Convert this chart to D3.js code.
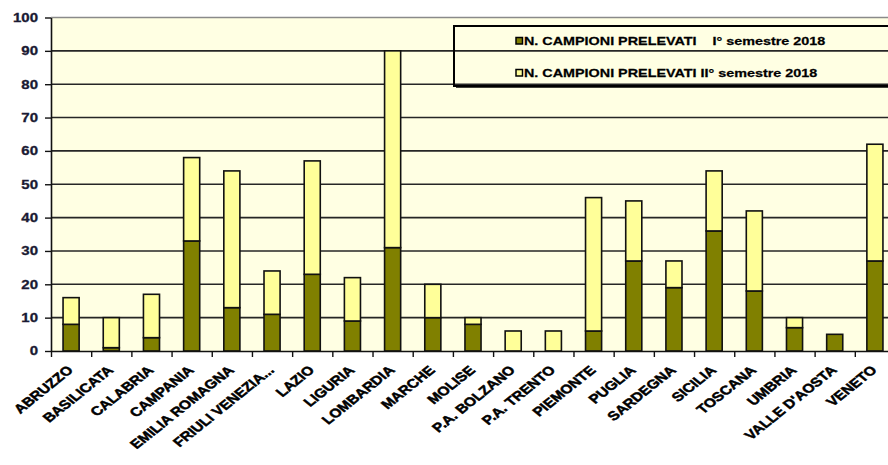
<!DOCTYPE html>
<html>
<head>
<meta charset="utf-8">
<script src="https://cdn.jsdelivr.net/npm/d3@7"></script>
<style>
  body { margin: 0; background: #fff; }
  text { font-family: "Liberation Sans", Arial, sans-serif; font-weight: bold; }
</style>
</head>
<body>
<div id="chart"></div>
<script>
// regions, first and second half of 2018
var regions = ["ABRUZZO", "BASILICATA", "CALABRIA", "CAMPANIA", "EMILIA ROMAGNA",
  "FRIULI VENEZIA...", "LAZIO", "LIGURIA", "LOMBARDIA", "MARCHE", "MOLISE",
  "P.A. BOLZANO", "P.A. TRENTO", "PIEMONTE", "PUGLIA", "SARDEGNA", "SICILIA",
  "TOSCANA", "UMBRIA", "VALLE D'AOSTA", "VENETO"];
var sem1 = [8, 1, 4, 33, 13, 11, 23, 9, 31, 10, 8, 0, 0, 6, 27, 19, 36, 18, 7, 5, 27];
var sem2 = [8, 9, 13, 25, 41, 13, 34, 13, 59, 10, 2, 6, 6, 40, 18, 8, 18, 24, 3, 0, 35];
var yTicks = [0, 10, 20, 30, 40, 50, 60, 70, 80, 90, 100];
var seriesNames = ["N. CAMPIONI PRELEVATI    I\u00b0 semestre 2018",
  "N. CAMPIONI PRELEVATI II\u00b0 semestre 2018"];

var W = 888, H = 465;
var plotLeft = 51, plotRight = 895, plotTop = 17.5, plotBottom = 351;
var sx = 1.25; // text is stretched horizontally in the original

var svg = d3.select("#chart").append("svg")
  .attr("width", W)
  .attr("height", H);

var data = regions.map(function (r, i) {
  return { region: r, a: sem1[i], b: sem2[i] };
});

var x = d3.scaleBand()
  .domain(regions)
  .range([plotLeft, plotRight])
  .paddingInner(0.6)
  .paddingOuter(0.3);

var y = d3.scaleLinear()
  .domain([0, 100])
  .range([plotBottom, plotTop]);

// plot background
svg.append("rect")
  .attr("x", plotLeft).attr("y", y(100))
  .attr("width", plotRight - plotLeft).attr("height", y(0) - y(100))
  .attr("fill", "#ffffe3");

// gridlines
svg.append("g")
  .selectAll("line")
  .data(yTicks.filter(function (d) { return d > 0; }))
  .enter().append("line")
  .attr("x1", plotLeft).attr("x2", plotRight)
  .attr("y1", function (d) { return y(d); })
  .attr("y2", function (d) { return y(d); })
  .attr("stroke", function (d) { return d == 100 ? "#8a8a8a" : "#262626"; })
  .attr("stroke-width", 1.6);

// legend box (transparent, gridline shows through)
var legend = svg.append("g");
legend.append("rect")
  .attr("x", 454).attr("y", 26)
  .attr("width", 460).attr("height", 60)
  .attr("fill", "none")
  .attr("stroke", "#000")
  .attr("stroke-width", 2);
legend.append("line")
  .attr("x1", 456).attr("x2", 888)
  .attr("y1", 87).attr("y2", 87)
  .attr("stroke", "#000").attr("stroke-width", 1.5);

var swatchFill = ["#808000", "#ffff99"];
var rowsY = [41, 73];
seriesNames.forEach(function (name, i) {
  legend.append("rect")
    .attr("x", 516).attr("y", rowsY[i] - 3.5)
    .attr("width", 6.5).attr("height", 6.5)
    .attr("fill", swatchFill[i])
    .attr("stroke", "#000").attr("stroke-width", 1.5);
  legend.append("text")
    .attr("transform", "translate(524," + (rowsY[i] + 4) + ") scale(" + sx + ",1)")
    .attr("font-size", "11.5px")
    .attr("stroke", "#000").attr("stroke-width", 0.25)
    .style("white-space", "pre")
    .text(name);
});

// stacked bars
var bars = svg.append("g");
bars.selectAll(".s1")
  .data(data)
  .enter().append("rect")
  .attr("class", "s1")
  .attr("x", function (d) { return x(d.region); })
  .attr("y", function (d) { return y(d.a); })
  .attr("width", x.bandwidth())
  .attr("height", function (d) { return y(0) - y(d.a); })
  .attr("fill", "#808000")
  .attr("stroke", "#111")
  .attr("stroke-width", function (d) { return d.a > 0 ? 1.6 : 0; });

bars.selectAll(".s2")
  .data(data)
  .enter().append("rect")
  .attr("class", "s2")
  .attr("x", function (d) { return x(d.region); })
  .attr("y", function (d) { return y(d.a + d.b); })
  .attr("width", x.bandwidth())
  .attr("height", function (d) { return y(d.a) - y(d.a + d.b); })
  .attr("fill", "#ffff99")
  .attr("stroke", "#111")
  .attr("stroke-width", function (d) { return d.b > 0 ? 1.6 : 0; });

// y axis
var yAxis = svg.append("g")
  .attr("transform", "translate(" + plotLeft + ",0)")
  .call(d3.axisLeft(y).tickValues(yTicks).tickSize(6).tickSizeOuter(0));
yAxis.select(".domain").attr("stroke", "#111").attr("stroke-width", 1.6);
yAxis.selectAll(".tick line").attr("stroke", "#111").attr("stroke-width", 1.4);
yAxis.selectAll("text")
  .attr("font-size", "12px")
  .attr("fill", "#1a1a33")
  .attr("stroke", "#1a1a33").attr("stroke-width", 0.3)
  .attr("font-family", null)
  .attr("x", -13 / sx)
  .attr("transform", "scale(" + sx + ",1)");

// x axis: ticks between categories
var idx = d3.scaleLinear().domain([0, regions.length])
  .range([plotLeft, plotLeft + x.step() * regions.length]);
var xAxis = svg.append("g")
  .attr("transform", "translate(0," + plotBottom + ")")
  .call(d3.axisBottom(idx).ticks(regions.length).tickFormat("").tickSize(6).tickSizeOuter(0));
xAxis.select(".domain").attr("stroke", "#111").attr("stroke-width", 1.6);
xAxis.selectAll(".tick line").attr("stroke", "#111").attr("stroke-width", 1.4);

// rotated category labels
svg.append("g")
  .selectAll("text")
  .data(regions)
  .enter().append("text")
  .attr("transform", function (d) {
    var cx = x(d) + x.bandwidth() / 2 + 3;
    return "translate(" + cx + ",371) scale(" + sx + ",1) rotate(-45)";
  })
  .attr("text-anchor", "end")
  .attr("font-size", "12.5px")
  .attr("fill", "#000")
  .attr("stroke", "#000").attr("stroke-width", 0.5)
  .text(function (d) { return d; });
</script>
</body>
</html>
